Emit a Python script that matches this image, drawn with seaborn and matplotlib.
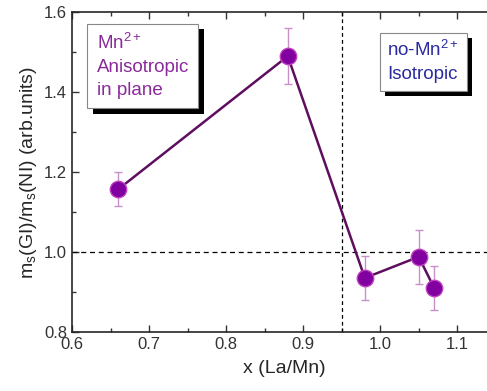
import matplotlib
matplotlib.use('Agg')
import matplotlib.pyplot as plt
import matplotlib.patheffects as pe
from matplotlib.ticker import MultipleLocator
import seaborn as sns
import pandas as pd

x_la_mn = [0.66, 0.88, 0.98, 1.05, 1.07]
ms_ratio = [1.157, 1.49, 0.935, 0.988, 0.91]
ms_err = [0.043, 0.07, 0.055, 0.068, 0.055]

df = pd.DataFrame({'x': x_la_mn, 'ratio': ms_ratio, 'err': ms_err})

sns.set_style('ticks')
plt.rcParams['font.family'] = ['Liberation Sans', 'DejaVu Sans']
plt.rcParams['mathtext.fontset'] = 'custom'
plt.rcParams['mathtext.rm'] = 'Liberation Sans'
plt.rcParams['mathtext.it'] = 'Liberation Sans:italic'

fig = plt.figure(figsize=(4.87, 3.91), dpi=100)
ax = fig.add_axes([0.148, 0.151, 0.87, 0.818])

ax.errorbar(df['x'], df['ratio'], yerr=df['err'], fmt='none', ecolor='#c890c8',
            elinewidth=1, capsize=3, capthick=1, zorder=2)
sns.lineplot(data=df, x='x', y='ratio', ax=ax, color='#5e0e5e', linewidth=1.8,
             sort=False, zorder=3)
sns.scatterplot(data=df, x='x', y='ratio', ax=ax, s=140, color='#8000a0',
                edgecolor='#c040c0', linewidth=1, zorder=4)

ax.axhline(1.0, color='black', linestyle='--', linewidth=0.9, dashes=(4, 3), zorder=1)
ax.axvline(0.95, color='black', linestyle='--', linewidth=0.9, dashes=(3, 2.5), zorder=1)

ax.set_xlim(0.6, 1.15)
ax.set_ylim(0.8, 1.6)
ax.xaxis.set_major_locator(MultipleLocator(0.1))
ax.xaxis.set_minor_locator(MultipleLocator(0.05))
ax.yaxis.set_major_locator(MultipleLocator(0.2))
ax.yaxis.set_minor_locator(MultipleLocator(0.1))
ax.tick_params(which='both', direction='in', top=True, right=False, labelsize=12, colors='#333333')
ax.tick_params(which='major', length=5, width=1)
ax.tick_params(which='minor', length=3, width=1)
for s in ax.spines.values():
    s.set_linewidth(1.2)

ax.set_xlabel('x (La/Mn)', fontsize=14, labelpad=6)
ax.set_ylabel(r'm$_\mathregular{s}$(GI)/m$_\mathregular{s}$(NI) (arb.units)', fontsize=14, labelpad=4)

shadow = [pe.withSimplePatchShadow(offset=(4, -4), shadow_rgbFace='black', alpha=1)]
t1 = ax.text(0.632, 1.548, 'Mn$^{2+}$\nAnisotropic\nin plane', color='#8a2a9a', fontsize=13.5,
             va='top', ha='left', linespacing=1.45,
             bbox=dict(boxstyle='square,pad=0.5', facecolor='white', edgecolor='#888888', linewidth=0.8))
t1.get_bbox_patch().set_path_effects(shadow)
t2 = ax.text(1.009, 1.53, 'no-Mn$^{2+}$\nIsotropic', color='#2a2aa0', fontsize=13.5,
             va='top', ha='left', linespacing=1.45,
             bbox=dict(boxstyle='square,pad=0.4', facecolor='white', edgecolor='#888888', linewidth=0.8))
t2.get_bbox_patch().set_path_effects(shadow)

fig.savefig('out.png', dpi=100)
